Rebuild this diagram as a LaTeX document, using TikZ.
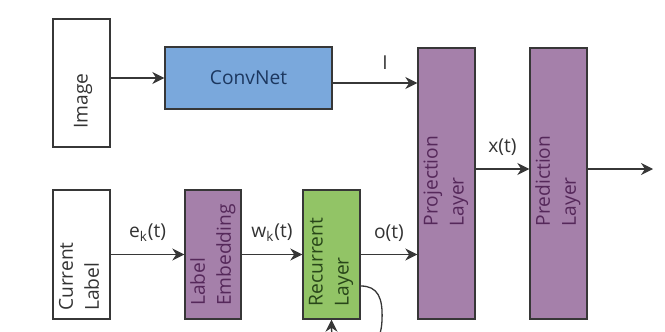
\documentclass[tikz,border=0pt]{standalone}
\usepackage{fontspec}
\setmainfont{Open Sans}
\usetikzlibrary{arrows.meta}
\definecolor{convblue}{RGB}{122,168,220}
\definecolor{layerpurple}{RGB}{165,128,170}
\definecolor{recgreen}{RGB}{146,196,102}
\definecolor{edgegray}{RGB}{55,55,55}
\definecolor{purpletext}{RGB}{85,40,90}
\definecolor{greentext}{RGB}{40,70,25}
\definecolor{bluetext}{RGB}{28,55,95}

\begin{document}
\begin{tikzpicture}[x=0.5pt, y=-0.5pt, >={Stealth[length=6pt,width=6pt]},
  box/.style={draw=edgegray, line width=0.7pt, inner sep=0pt},
  txt/.style={rotate=90, align=left, inner sep=0pt, text=black!80,
    font=\fontsize{9.6}{13}\selectfont},
  lbl/.style={font=\fontsize{9.6}{11}\selectfont, text=black!80},
  arr/.style={->, draw=edgegray, line width=0.65pt}]
\useasboundingbox (0,0) rectangle (665,332);
\clip (0,0) rectangle (665,332);

% boxes
\node[box, minimum width=28.5pt, minimum height=64pt] (img) at (81.5,83) {};
\node[box, fill=convblue, minimum width=83.5pt, minimum height=31pt,
  font=\fontsize{9.6}{11}\selectfont, text=bluetext] (conv) at (248.5,78) {ConvNet};
\node[box, fill=layerpurple, minimum width=28.5pt, minimum height=135.5pt] (proj) at (446.5,183.5) {};
\node[box, fill=layerpurple, minimum width=28.5pt, minimum height=135.5pt] (pred) at (558.5,183.5) {};
\node[box, minimum width=28.5pt, minimum height=64.5pt] (cur) at (81.5,254.5) {};
\node[box, fill=layerpurple, minimum width=28pt, minimum height=64.5pt] (emb) at (213,254.5) {};
\node[box, fill=recgreen, minimum width=28.5pt, minimum height=64.5pt] (rec) at (331.5,254.5) {};

% texts
\node[txt] (imgtxt) at (83,101) {Image};
\node[txt] (curtxt) at (79,276.5) {Current\\Label};
\node[txt, text=purpletext] (embtxt) at (213,255) {Label\\Embedding};
\node[txt, text=greentext] (rectxt) at (331,262) {Recurrent\\Layer};
\node[txt, text=purpletext] (projtxt) at (446,181) {Projection\\Layer};
\node[txt, text=purpletext] (predtxt) at (558,181) {Prediction\\Layer};

% connections
\draw[arr] (img.east |- conv.west) -- (conv.west);
\draw[arr] ([yshift=-2.5pt]conv.east) -- ([yshift=-2.5pt]conv.east -| proj.west)
  node[lbl, above=3pt, pos=0.62] (ilbl) {I};
\draw[arr] (cur.east) -- (emb.west)
  node[lbl, above=3pt, midway] (elbl) {e\textsubscript{k}(t)};
\draw[arr] (emb.east) -- (rec.west)
  node[lbl, above=3pt, midway] (wlbl) {w\textsubscript{k}(t)};
\draw[arr] (rec.east) -- (rec.east -| proj.west)
  node[lbl, above=3pt, midway] (olbl) {o(t)};
\draw[arr] ([yshift=7.25pt]proj.east) -- ([yshift=7.25pt]pred.west)
  node[lbl, above=3pt, midway] (xlbl) {x(t)};
\coordinate (out) at (653,169);
\draw[arr] ([yshift=7.25pt]pred.east) -- (out);

% recurrent loop
\draw[arr] ([yshift=-15.75pt]rec.east) .. controls (378,286) and (383,298) .. (382,320)
  .. controls (381,365) and (331.5,365) .. (rec.south);
\end{tikzpicture}
\end{document}
